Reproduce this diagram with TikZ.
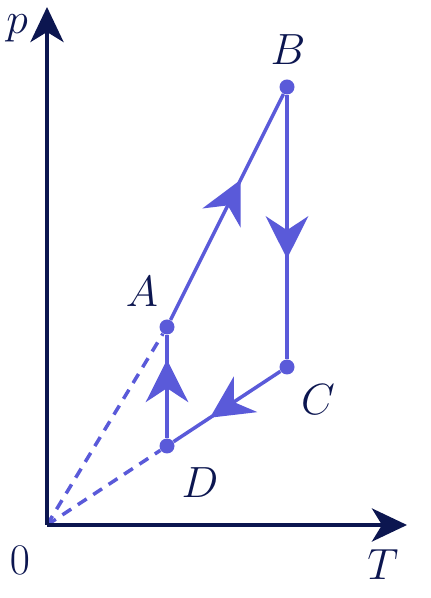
\documentclass[tikz,border=0pt]{standalone}
\usetikzlibrary{arrows.meta,decorations.markings}
\definecolor{axisnavy}{HTML}{0C1650}
\definecolor{cyclecol}{HTML}{5A5AD9}

\begin{document}
\begin{tikzpicture}[
        x=0.02cm, y=0.02cm,
        font=\fontsize{24}{28}\selectfont,
        axis/.style={axisnavy, line width=2.5pt, -{Stealth[length=0.7cm, width=0.66cm, inset=0.2cm]}},
        proc/.style={cyclecol, line width=2pt},
        dashproc/.style={cyclecol, line width=2pt, dash pattern=on 6pt off 4.5pt},
        midarrow/.style={postaction={decorate}, decoration={markings,
            mark=at position #1 with {\arrow{Stealth[length=0.85cm, width=0.85cm, inset=0.28cm]}}}},
        dot/.style={circle, fill=cyclecol, inner sep=0pt, minimum size=0.3cm},
        lbl/.style={text=axisnavy, inner sep=0pt}
        ]
        \useasboundingbox (0,0) rectangle (430,598);
        
        % axes
        \coordinate (O)    at (47,73);
        \coordinate (ptop) at (47,591);
        \coordinate (Tend) at (407,73);
        
        % states
        \node[dot] (A) at (167,271) {};
        \node[dot] (B) at (287,511) {};
        \node[dot] (C) at (287,231) {};
        \node[dot] (D) at (167,152) {};
        
        % isochores through the origin
        \draw[dashproc] (O) -- (A);
        \draw[dashproc] (O) -- (D);
        
        \draw[axis] (O) -- (ptop);
        \draw[axis] (O) -- (Tend);
        
        % cycle
        \draw[proc, midarrow=0.62] (A) -- (B);
        \draw[proc, midarrow=0.62] (B) -- (C);
        \draw[proc, midarrow=0.66] (C) -- (D);
        \draw[proc, midarrow=0.76] (D) -- (A);
        
        % labels
        \node[lbl] (pl)   at (17,570)  {$p$};
        \node[lbl] (Tl)   at (383,33)  {$T$};
        \node[lbl] (zero) at (20,38)   {$0$};
        \node[lbl] (Al)   at (142,306) {$A$};
        \node[lbl] (Bl)   at (288,548) {$B$};
        \node[lbl] (Cl)   at (318,198) {$C$};
        \node[lbl] (Dl)   at (200,115) {$D$};
        
    \end{tikzpicture}
\end{document}
